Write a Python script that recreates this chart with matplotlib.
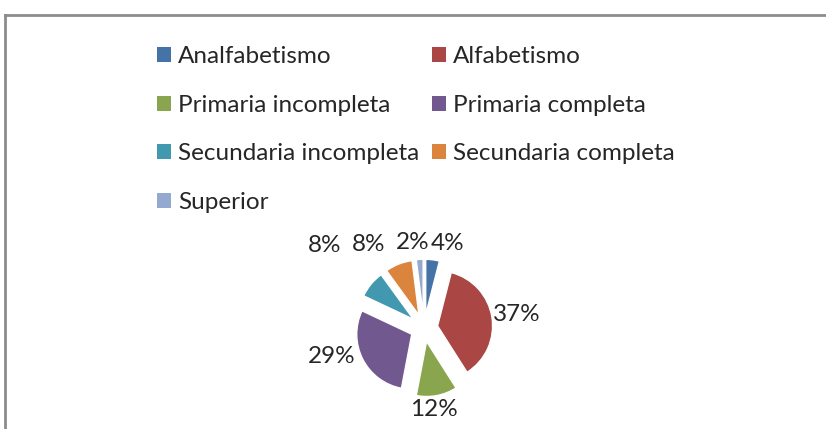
import numpy as np
import matplotlib
matplotlib.use('Agg')
import matplotlib.pyplot as plt
from matplotlib.lines import Line2D

# datos del gráfico
categorias = ['Analfabetismo', 'Alfabetismo', 'Primaria incompleta', 'Primaria completa',
              'Secundaria incompleta', 'Secundaria completa', 'Superior']
porcentajes = [4, 37, 12, 29, 8, 8, 2]
colores = ['#4572A7', '#AA4643', '#89A54E', '#71588F', '#4198AF', '#DB843D', '#93A9CF']

# ajustes de posición de etiquetas (radio en unidades del radio, desplazamiento angular en grados)
dist_etiqueta = [1.6, 1.71, 1.49, 1.75, 2.35, 1.82, 1.56]
giro_etiqueta = [-8, -1, -4, -10, 0, 12, 4]

plt.rcParams['font.family'] = ['Lato', 'DejaVu Sans']
FS = 17.5

W, H = 826, 429
fig = plt.figure(figsize=(W / 100, H / 100), dpi=100)

# marco gris (arriba e izquierda)
gris = '#8c8c8c'
fig.add_artist(Line2D([5 / W, 1], [1 - 15 / H, 1 - 15 / H], color=gris, lw=2, transform=fig.transFigure))
fig.add_artist(Line2D([5 / W, 5 / W], [0, 1 - 15 / H], color=gris, lw=2, transform=fig.transFigure))

R = 55  # radio en píxeles
cx, cy = 424, 328
lado = 4 * R
ax = fig.add_axes([(cx - lado / 2) / W, (H - cy - lado / 2) / H, lado / W, lado / H])

wedges, _ = ax.pie(porcentajes, colors=colores, startangle=90, counterclock=False,
                   explode=[0.25] * len(porcentajes), radius=1,
                   wedgeprops=dict(edgecolor='white', linewidth=1))
ax.set_xlim(-2, 2)
ax.set_ylim(-2, 2)
ax.set_aspect('equal')
ax.axis('off')
for w in wedges:
    w.set_clip_on(False)

for i, (w, p) in enumerate(zip(wedges, porcentajes)):
    ang = np.deg2rad((w.theta1 + w.theta2) / 2 + giro_etiqueta[i])
    d = dist_etiqueta[i]
    ax.text(d * np.cos(ang), d * np.sin(ang), f'{p}%', ha='center', va='center',
            fontsize=FS, color='#262626', clip_on=False)

# leyenda en orden por filas (como Excel)
orden = [0, 2, 4, 6, 1, 3, 5]
leg = fig.legend([wedges[i] for i in orden], [categorias[i] for i in orden], ncol=2,
                 loc='upper left', bbox_to_anchor=(157 / W, 1 - 46 / H), frameon=False,
                 fontsize=FS, handlelength=0.58, handleheight=0.58,
                 handletextpad=0.3, labelspacing=1.14, columnspacing=0.5,
                 borderpad=0, borderaxespad=0)
for h in leg.legend_handles:
    h.set_edgecolor('none')
for t in leg.get_texts():
    t.set_color('#262626')

fig.savefig('out.png', dpi=100)
